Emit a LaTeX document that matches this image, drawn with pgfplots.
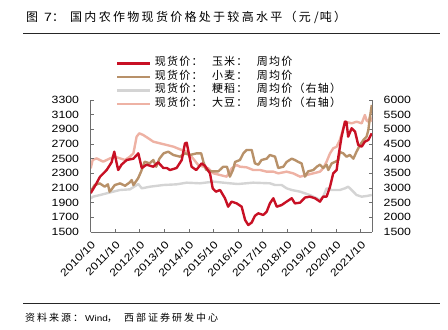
\documentclass[border=0pt]{standalone}
\usepackage{fontspec}
\usepackage{pgfplots}
\pgfplotsset{compat=1.18}
\setmainfont{Liberation Sans}[FakeStretch=1.17]
\newfontfamily\cjk{Noto Sans CJK SC}
\definecolor{cornred}{RGB}{200,16,36}
\definecolor{wheattan}{RGB}{184,145,105}
\definecolor{ricegray}{RGB}{212,212,212}
\definecolor{soypink}{RGB}{238,178,164}
\definecolor{axisgray}{RGB}{110,110,110}
\newcommand{\ticksize}{\fontsize{10.5bp}{12bp}\selectfont}
\makeatletter
\def\sp@end{\sp@end}
\newcommand{\spaced}[2]{\begingroup\def\sp@w{#1}\sp@loop#2\sp@end\endgroup}
\def\sp@loop#1{\ifx#1\sp@end\else\makebox[\sp@w][l]{#1}\expandafter\sp@loop\fi}
\makeatother
\newcommand{\legent}[3]{\spaced{12.2bp}{#1}\makebox[20.5bp][l]{：}\spaced{12.2bp}{#2}\makebox[20.5bp][l]{：}\spaced{12.2bp}{#3}}
\pgfplotsset{
  common/.style={
    scale only axis, width=281.3bp, height=132bp,
    at={(90.7bp,98bp)}, anchor=south west,
    xmin=0, xmax=11.46,
    tick align=inside, major tick length=3bp,
    /pgf/number format/assume math mode=true,
    /pgf/number format/set thousands separator={},
    tick label style={font=\ticksize},
    axis line style={draw=axisgray, line width=0.8bp},
    every tick/.style={draw=axisgray, line width=0.6bp},
    line join=round,
  }
}
\begin{document}
\begin{tikzpicture}
\path[use as bounding box] (0,0) rectangle (448bp,330bp);
\draw[line width=0.8bp, black!85] (23bp,297bp) -- (440bp,297bp);
\draw[line width=0.8bp, black!85] (23bp,27bp) -- (440bp,27bp);
% title
\begin{scope}[every node/.style={anchor=base west, inner sep=0pt, font=\fontsize{12bp}{14bp}\selectfont}]
\node at (26bp,308bp) {\cjk 图};
\node at (44bp,308bp) {7};
\node at (52bp,308bp) {\cjk ：};
\node at (70bp,308bp) {\cjk\spaced{14.3bp}{国内农作物现货价格处于较高水平（元}\makebox[6.5bp][c]{/}\spaced{14.3bp}{吨）}};
\end{scope}
% source
\begin{scope}[every node/.style={anchor=base west, inner sep=0pt, font=\fontsize{10bp}{12bp}\selectfont}]
\node at (25bp,8.5bp) {\cjk\spaced{12bp}{资料来源：}};
\node at (85bp,8.5bp) {\fontsize{8.5bp}{10bp}\selectfont Wind};
\node at (107bp,8.5bp) {\cjk ，};
\node at (124bp,8.5bp) {\cjk\spaced{12bp}{西部证券研发中心}};
\end{scope}

% right axis: rice and soybean
\begin{axis}[common,
  ymin=1500, ymax=6000, ytick={1500,2000,...,6000},
  axis y line*=right, axis x line=none,
  yticklabel style={inner sep=0pt, xshift=11.5bp},
]
\addplot[soypink, line width=2.4bp] coordinates {
(0,3670) (0.08,3955) (0.24,4011) (0.51,3898) (0.79,4011) (0.99,4068) (1.19,4011) (1.40,3955) (1.60,4068) (1.74,4182) (1.87,4750) (1.98,4864) (2.14,4807) (2.35,4693) (2.55,4580) (2.82,4523) (3.10,4466) (3.37,4409) (3.64,4318) (3.91,4239) (4.11,4068) (4.38,3784) (4.59,3727) (4.79,3671) (5.0,3500) (5.27,3443) (5.54,3386) (5.74,3670) (5.95,3784) (6.08,3727) (6.35,3705) (6.62,3614) (6.90,3614) (7.17,3557) (7.44,3557) (7.64,3500) (7.98,3557) (8.25,3500) (8.53,3386) (8.80,3443) (9.07,3500) (9.34,3557) (9.47,3670) (9.61,3898) (9.75,4182) (9.88,4352) (10.02,4409) (10.15,4636) (10.29,5034) (10.36,5261) (10.63,5205) (10.83,5261) (11.04,5205) (11.17,5489) (11.24,5300) (11.31,5261) (11.38,5432) (11.45,5261)
};
\addplot[ricegray, line width=2.4bp] coordinates {
(0,2650) (0.1,2705) (0.38,2761) (0.92,2875) (1.19,2932) (1.60,2955) (1.94,3136) (2.08,2989) (2.42,3045) (2.96,3102) (3.50,3125) (3.91,3182) (4.45,3160) (5.0,3216) (5.67,3160) (6.0,3136) (6.62,3182) (7.30,3160) (7.51,3102) (7.78,3102) (7.98,2989) (8.19,2932) (8.53,2875) (8.93,2761) (9.21,2648) (9.34,2591) (9.47,2705) (9.61,2989) (9.82,2932) (10.15,2932) (10.36,2989) (10.49,3045) (10.63,2932) (10.83,2761) (11.04,2705) (11.24,2727) (11.45,2761)
};
\end{axis}

% left axis: corn and wheat
\begin{axis}[common,
  ymin=1500, ymax=3300, ytick={1500,1700,...,3300},
  axis y line*=left, axis x line*=bottom,
  yticklabel style={inner sep=0pt, xshift=-11.5bp},
  xtick={0,1,...,11},
  xticklabels={2010/10,2011/10,2012/10,2013/10,2014/10,2015/10,2016/10,2017/10,2018/10,2019/10,2020/10,2021/10},
  xticklabel style={inner sep=0pt, rotate=45, anchor=north east},
  xticklabel shift=8bp,
  legend style={at={(0.09,1.329)}, anchor=north west, draw=none, fill=none,
    inner sep=0pt, outer sep=0pt, row sep=0pt, column sep=3.5bp,
    nodes={inner sep=0pt, text height=9.2bp, text depth=4.3bp},
    font=\cjk\fontsize{11bp}{13bp}\selectfont},
  legend cell align=left,
  legend image code/.code={\draw[#1, line width=2.4bp] (0bp,0bp) -- (33bp,0bp);},
]
\addplot[wheattan, line width=2.4bp] coordinates {
(0,2050) (0.16,2140) (0.37,2163) (0.57,2118) (0.70,2150) (0.77,2050) (0.85,2080) (0.98,2140) (1.2,2163) (1.4,2130) (1.59,2177) (1.67,2209) (1.74,2140) (1.93,2232) (2.05,2322) (2.2,2459) (2.4,2436) (2.55,2482) (2.67,2390) (2.8,2500) (2.97,2573) (3.16,2595) (3.37,2550) (3.64,2527) (3.84,2573) (4.04,2550) (4.32,2573) (4.50,2573) (4.59,2459) (4.70,2350) (4.9,2327) (5.2,2327) (5.4,2390) (5.55,2390) (5.67,2255) (5.8,2350) (5.88,2455) (6.08,2482) (6.22,2573) (6.35,2618) (6.56,2618) (6.69,2436) (6.83,2418) (6.96,2482) (7.17,2500) (7.30,2550) (7.51,2527) (7.64,2373) (7.85,2390) (7.98,2455) (8.19,2500) (8.32,2482) (8.46,2455) (8.59,2436) (8.73,2255) (8.86,2327) (9.07,2345) (9.21,2390) (9.34,2418) (9.47,2373) (9.61,2418) (9.68,2345) (9.82,2436) (9.95,2455) (10.09,2482) (10.15,2590) (10.29,2573) (10.42,2527) (10.56,2550) (10.70,2500) (10.83,2595) (10.97,2686) (11.11,2755) (11.24,2800) (11.31,2890) (11.38,3073) (11.45,3232)
};
\addplot[cornred, line width=2.4bp] coordinates {
(0,2030) (0.18,2130) (0.38,2254) (0.65,2345) (0.85,2450) (0.96,2595) (1.05,2450) (1.12,2345) (1.26,2420) (1.47,2482) (1.74,2500) (1.94,2573) (2.08,2373) (2.28,2418) (2.55,2390) (2.75,2450) (2.96,2373) (3.1,2373) (3.23,2345) (3.50,2373) (3.71,2482) (3.84,2709) (3.91,2718) (4.04,2500) (4.11,2390) (4.30,2345) (4.52,2436) (4.66,2400) (4.86,2300) (4.97,2095) (5.1,2050) (5.27,2073) (5.47,1960) (5.6,1845) (5.74,1914) (5.95,1890) (6.15,1845) (6.29,1664) (6.42,1595) (6.56,1630) (6.69,1720) (6.83,1755) (7.03,1732) (7.17,1777) (7.30,1890) (7.44,1960) (7.58,1845) (7.78,1868) (7.98,1914) (8.19,1960) (8.32,1890) (8.53,1900) (8.73,1970) (8.93,1982) (9.14,1960) (9.34,1914) (9.47,1982) (9.61,1982) (9.75,2118) (9.88,2300) (10.02,2345) (10.09,2527) (10.22,2800) (10.36,3005) (10.42,3000) (10.49,2800) (10.63,2914) (10.77,2868) (10.90,2686) (11.04,2664) (11.17,2732) (11.31,2755) (11.45,2845)
};
\addlegendimage{cornred}
\addlegendimage{wheattan}
\addlegendimage{ricegray}
\addlegendimage{soypink}
\legend{,,\legent{现货价}{玉米}{周均价},\legent{现货价}{小麦}{周均价},\legent{现货价}{粳稻}{周均价（右轴）},\legent{现货价}{大豆}{周均价（右轴）}}
\end{axis}
\end{tikzpicture}
\end{document}
